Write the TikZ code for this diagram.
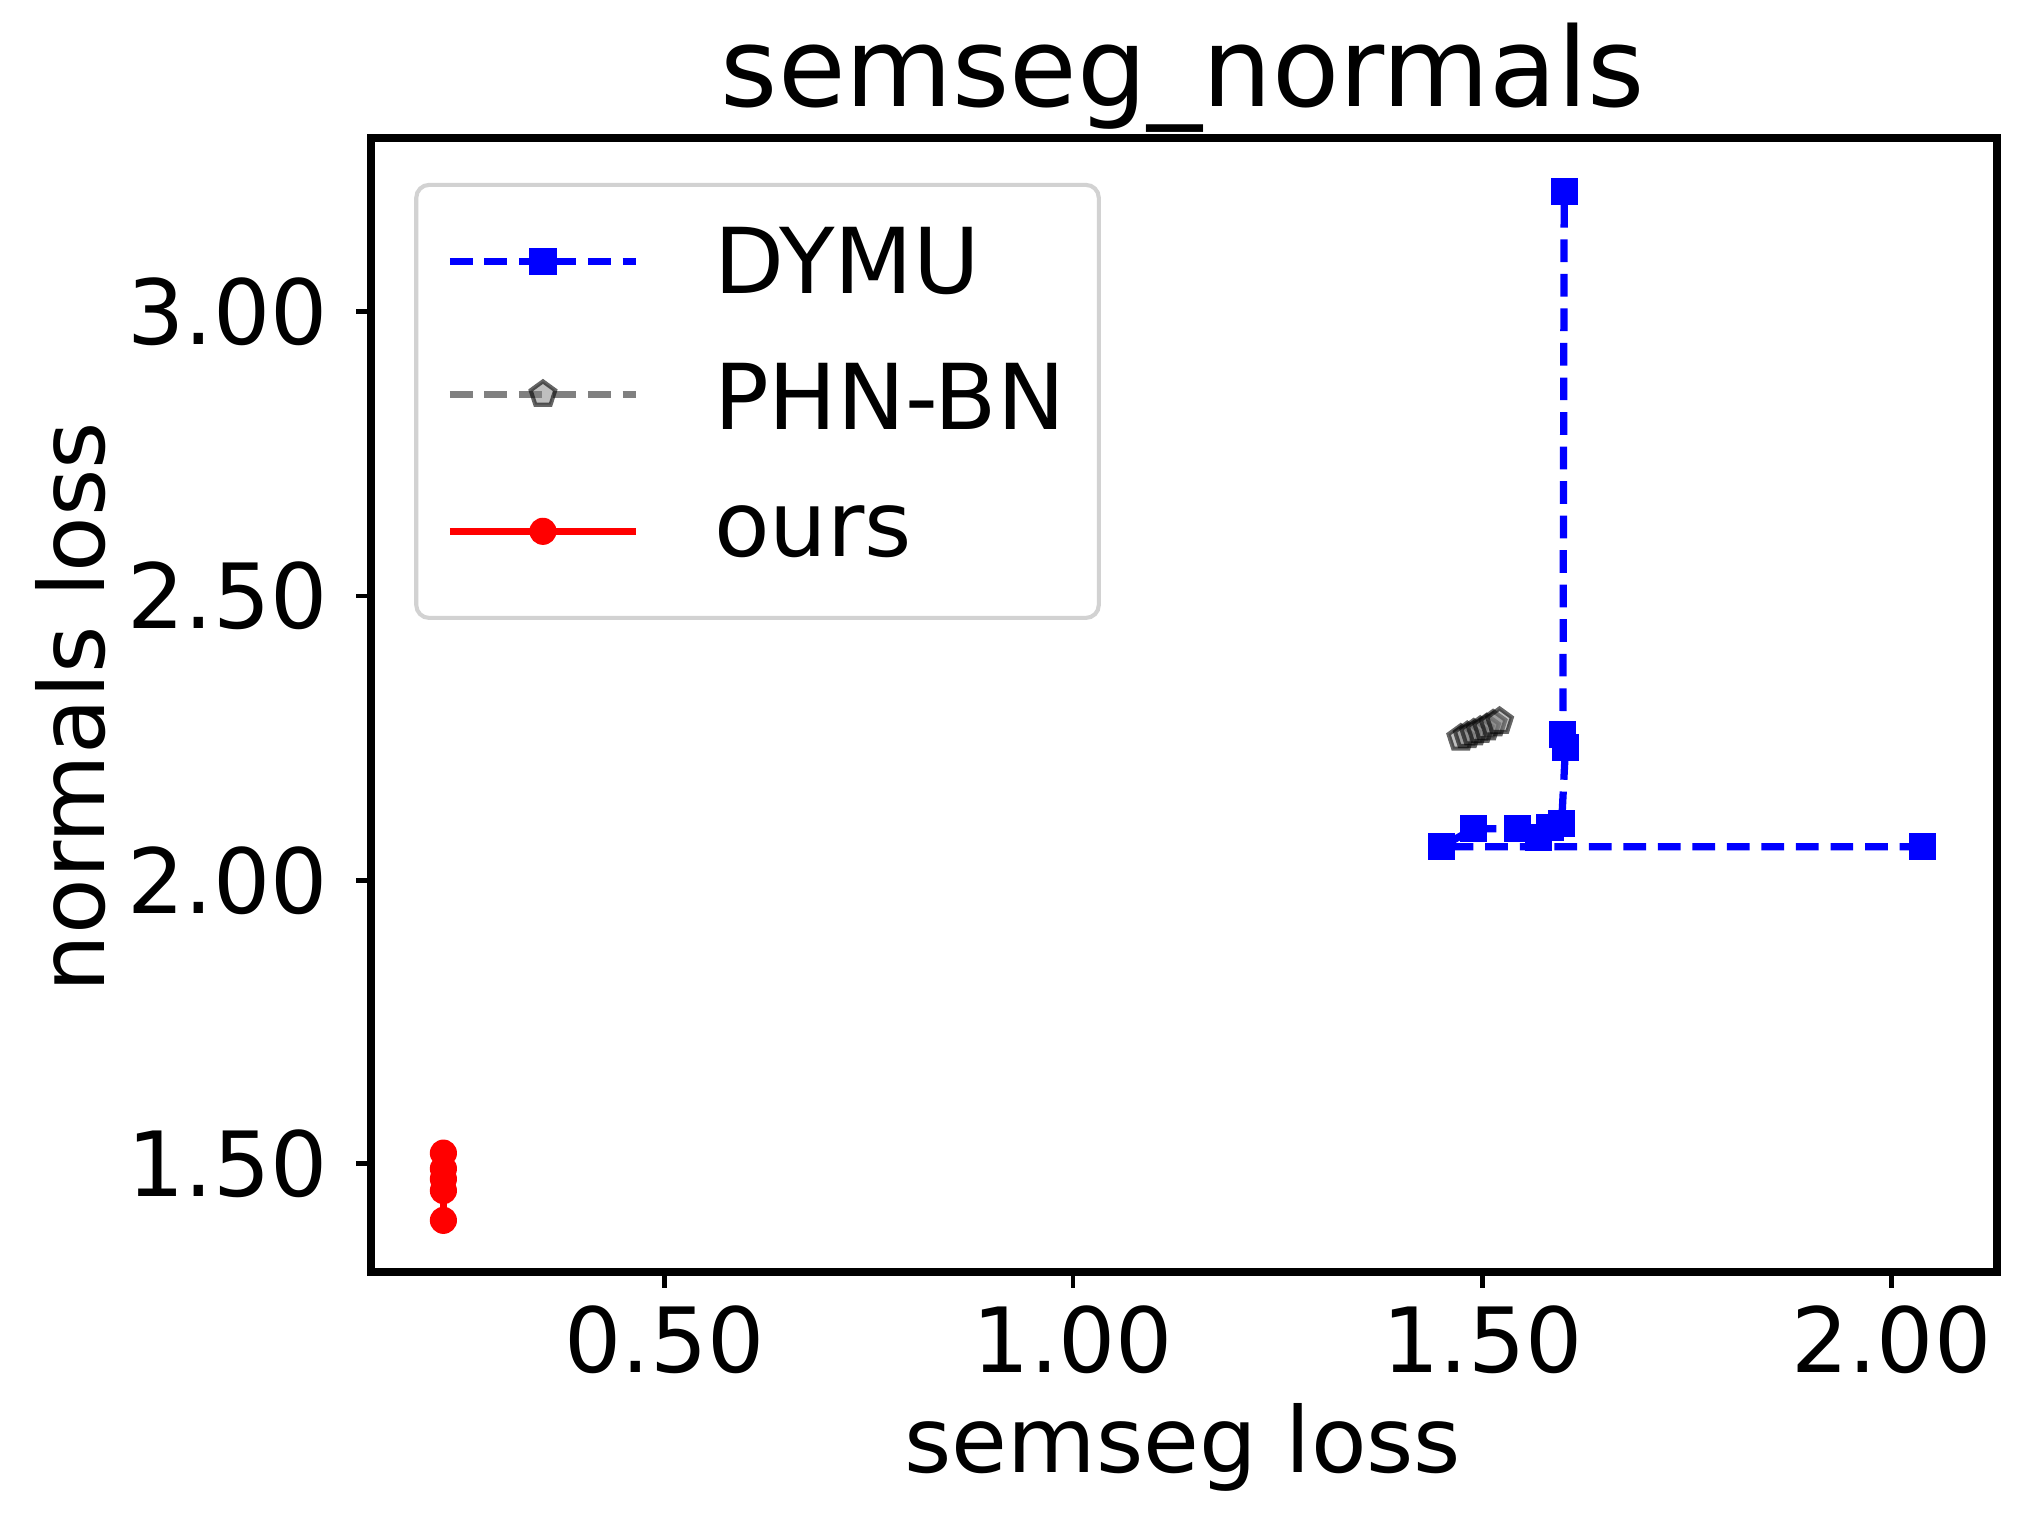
\documentclass[tikz,border=0pt]{standalone}
\usepackage{fontspec}
\setmainfont{DejaVu Sans}
\usetikzlibrary{shapes.geometric}
\begin{document}
\begin{tikzpicture}[x=0.1mm,y=-0.1mm,
  sq/.style={fill=blue,draw=none,minimum size=2.1mm,inner sep=0pt,rectangle},
  dot/.style={fill=red,draw=none,minimum size=2.1mm,inner sep=0pt,circle},
  pent/.style={regular polygon,regular polygon sides=5,draw=black,fill=gray,fill opacity=0.5,draw opacity=0.6,minimum size=2mm,inner sep=0pt,line width=0.9pt},
  dym/.style={blue,line width=1.6pt,dash pattern=on 5pt off 2.6pt},
  tick/.style={font=\fontsize{19.8}{22}\selectfont},
  lbl/.style={font=\fontsize{20}{22}\selectfont}]
\useasboundingbox (0,0) rectangle (1568,1182);
\node[font=\fontsize{24.2}{26}\selectfont] (title) at (915,60) {semseg\_normals};
% ticks
\foreach \x/\t in {514/0.50,830/1.00,1147/1.50,1463/2.00}{
  \draw[line width=1pt] (\x,984) -- (\x,996);
  \node[tick,anchor=north] at (\x,998) {\t};}
\foreach \y/\t in {241/3.00,461/2.50,681/2.00,900/1.50}{
  \draw[line width=1pt] (287,\y) -- (275,\y);
  \node[tick,anchor=east] at (266,\y) {\t};}
\node[lbl] (xl) at (915,1120) {semseg loss};
\node[lbl,rotate=90] (yl) at (55,547) {normals loss};
% DYMU
\coordinate (a) at (1487,655); \coordinate (b) at (1115,655);
\coordinate (c) at (1140,641); \coordinate (d) at (1174,641);
\coordinate (e) at (1190,648); \coordinate (f) at (1199,640);
\coordinate (g) at (1208,637); \coordinate (h) at (1211,578);
\coordinate (i) at (1209,568); \coordinate (j) at (1210,148);
\draw[dym] (a) -- (b) -- (c) -- (d) -- (e) -- (f) -- (g) -- (h) -- (i) -- (j);
\foreach \n in {a,b,c,d,e,f,g,h,i,j} \node[sq] at (\n) {};
% PHN-BN
\foreach \px/\py in {1130/571,1135/569,1140/567,1145/565,1150/563,1155/560,1160/558}
  \node[pent] at (\px,\py) {};
% ours
\coordinate (r1) at (343,892); \coordinate (r2) at (343,904);
\coordinate (r3) at (343,912); \coordinate (r4) at (343,921);
\coordinate (r5) at (343,944);
\draw[red,line width=1.6pt] (r1) -- (r5);
\foreach \n in {r1,r2,r3,r4,r5} \node[dot] at (\n) {};
% frame
\draw[line width=1.7pt] (287,107) rectangle (1545,984);
% legend
\draw[rounded corners=1mm,draw=gray!35,fill=white,fill opacity=0.8,line width=0.9pt] (322,143) rectangle (850,478);
\coordinate (l1a) at (348,202); \coordinate (l1b) at (492,202);
\draw[dym] (l1a) -- (l1b); \node[sq] at (420,202) {};
\node[lbl,anchor=west] (t1) at (540,202) {DYMU};
\coordinate (l2a) at (348,305); \coordinate (l2b) at (492,305);
\draw[gray,line width=1.6pt,dash pattern=on 5pt off 2.6pt] (l2a) -- (l2b); \node[pent] at (420,305) {};
\node[lbl,anchor=west] (t2) at (540,307) {PHN-BN};
\coordinate (l3a) at (348,411); \coordinate (l3b) at (492,411);
\draw[red,line width=1.6pt] (l3a) -- (l3b); \node[dot] at (420,411) {};
\node[lbl,anchor=west] (t3) at (540,411) {ours};
\end{tikzpicture}
\end{document}
